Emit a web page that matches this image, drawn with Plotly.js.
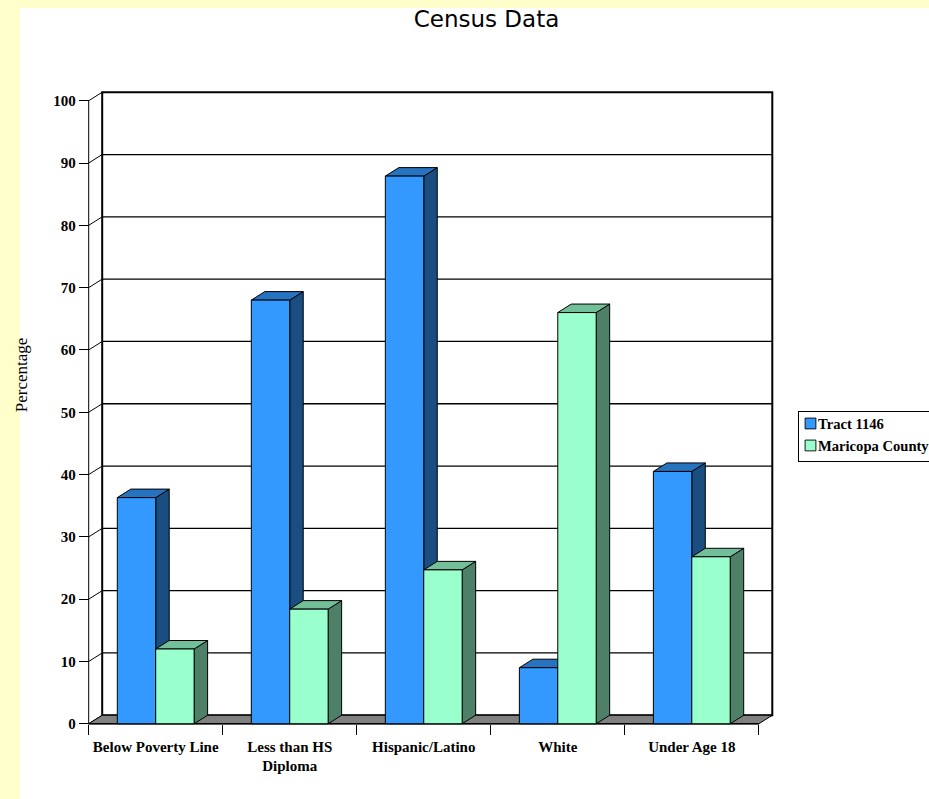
<!DOCTYPE html>
<html>
<head>
<meta charset="utf-8">
<script src="https://cdn.plot.ly/plotly-3.0.1.min.js"></script>
<style>
html,body{margin:0;padding:0;background:#ffffcc;overflow:hidden;width:929px;height:799px}
#sheet{position:absolute;left:20px;top:8px;width:909px;height:791px;background:#fff}
#chart{position:absolute;left:0;top:0}
</style>
</head>
<body>
<div id="sheet"></div>
<div id="chart"></div>
<script>
var categories = ["Below Poverty Line", "Less than HS<br>Diploma", "Hispanic/Latino", "White", "Under Age 18"];
var tract = [36.3, 68, 87.9, 9, 40.5];
var maricopa = [12, 18.4, 24.7, 66, 26.8];
var valueTicks = [0, 10, 20, 30, 40, 50, 60, 70, 80, 90, 100];
var seriesNames = ["Tract 1146", "Maricopa County"];

var W = 1100, H = 799;
var pxX = 134, pxY = 6.225;               // pixels per data unit
var dxPx = 13.5, dyPx = 8.5;              // 3-D depth in pixels
var dx = dxPx / pxX, dy = dyPx / pxY;
var barW = 0.2866;
var padX = 0.05, padY = 1;
var xMin = -0.5 - padX, xMax = 4.5 + dx + padX;
var yMin = -padY, yMax = 100 + dy + padY;
var left = 88.5 - padX * pxX;
var plotW = (xMax - xMin) * pxX;
var bottomPx = 723.5 + padY * pxY;
var plotH = (yMax - yMin) * pxY;

var BLUE = "#3399ff", BLUE_TOP = "#2673bf", BLUE_SIDE = "#1a4d80";
var GREEN = "#99ffcc", GREEN_TOP = "#73bf99", GREEN_SIDE = "#4d8066";

function poly(pts, fill, lw) {
  return {
    type: "path", layer: "below", xref: "x", yref: "y",
    path: "M" + pts.map(function (p) { return p[0] + "," + p[1]; }).join(" L") + " Z",
    fillcolor: fill, line: { color: "#000", width: lw === undefined ? 1 : lw }
  };
}
function seg(x0, y0, x1, y1, lw) {
  return { type: "line", layer: "below", xref: "x", yref: "y", x0: x0, y0: y0, x1: x1, y1: y1,
           line: { color: "#000", width: lw } };
}

var shapes = [];
// back wall
shapes.push(poly([[-0.5 + dx, dy], [4.5 + dx, dy], [4.5 + dx, 100 + dy], [-0.5 + dx, 100 + dy]], "#ffffff", 2));
// gridlines and their diagonals
valueTicks.forEach(function (v) {
  if (v > 0 && v < 100) shapes.push(seg(-0.5 + dx, v + dy, 4.5 + dx, v + dy, 1.3));
  shapes.push(seg(-0.5, v, -0.5 + dx, v + dy, 1));
});
// floor
shapes.push(poly([[-0.5, 0], [4.5, 0], [4.5 + dx, dy], [-0.5 + dx, dy]], "#808080", 1));
// front axis lines
shapes.push(seg(-0.5, 0, -0.5, 100, 1));
shapes.push(seg(-0.5, 0, 4.5, 0, 1.5));
// 3-D faces of the bars
function faces(vals, offset, top, side) {
  vals.forEach(function (v, i) {
    var a = i + offset, b = a + barW;
    shapes.push(poly([[b, 0], [b + dx, dy], [b + dx, v + dy], [b, v]], side));
    shapes.push(poly([[a, v], [b, v], [b + dx, v + dy], [a + dx, v + dy]], top));
  });
}
faces(tract, -barW, BLUE_TOP, BLUE_SIDE);
faces(maricopa, 0, GREEN_TOP, GREEN_SIDE);

var idx = categories.map(function (c, i) { return i; });
var boundaries = [-0.5, 0.5, 1.5, 2.5, 3.5, 4.5];
var labelFont = { family: "Liberation Serif", size: 15, color: "#000", weight: 700 };
var legendFont = { family: "Liberation Serif", size: 14.6, color: "#000", weight: 700 };

var traces = [
  { type: "bar", name: seriesNames[0], x: idx, y: tract, marker: { color: BLUE, line: { color: "#000", width: 1 } } },
  { type: "bar", name: seriesNames[1], x: idx, y: maricopa, marker: { color: GREEN, line: { color: "#000", width: 1 } } }
];

var layout = {
  width: W, height: H,
  paper_bgcolor: "rgba(0,0,0,0)", plot_bgcolor: "rgba(0,0,0,0)",
  margin: { l: left, r: W - left - plotW, t: bottomPx - plotH, b: H - bottomPx, pad: 0 },
  title: { text: "Census Data", font: { family: "DejaVu Sans", size: 23, color: "#000" },
           x: 486.5 / W, xanchor: "center", y: 1 - 19 / H, yanchor: "middle" },
  barmode: "group", bargap: 1 - 2 * barW, bargroupgap: 0,
  showlegend: true,
  legend: {
    xref: "container", yref: "container",
    x: 798 / W, xanchor: "left",
    y: 1 - 410.5 / H, yanchor: "top",
    bgcolor: "#fff", bordercolor: "#000", borderwidth: 1,
    font: legendFont, traceorder: "normal"
  },
  xaxis: {
    range: [xMin, xMax], anchor: "free", position: padY / (yMax - yMin),
    tickmode: "array", tickvals: idx, ticktext: categories,
    ticks: "outside", ticklen: 9, tickcolor: "rgba(0,0,0,0)", tickfont: labelFont, tickangle: 0,
    minor: { tickmode: "array", tickvals: boundaries, ticks: "outside", ticklen: 10, tickwidth: 1, tickcolor: "#000", showgrid: false },
    showgrid: false, zeroline: false, showline: false
  },
  yaxis: {
    range: [yMin, yMax], anchor: "free", position: padX / (xMax - xMin),
    tickmode: "array", tickvals: valueTicks,
    ticks: "outside", ticklen: 10, tickwidth: 1, tickcolor: "#000", tickfont: labelFont,
    showgrid: false, zeroline: false, showline: false,
    title: { text: "Percentage", font: { family: "Liberation Serif", size: 17, color: "#000" }, standoff: 24 }
  },
  shapes: shapes
};

Plotly.newPlot("chart", traces, layout, { displayModeBar: false, staticPlot: true }).then(function (gd) {
  // compact legend key like the reference
  gd.querySelectorAll(".legend .legendtext").forEach(function (t) { t.setAttribute("x", 19); });
  gd.querySelectorAll(".legend .legendpoints path").forEach(function (p) {
    p.setAttribute("transform", "translate(11.5,0) scale(0.9)");
  });
  var bg = gd.querySelector(".legend .bg");
  if (bg) bg.setAttribute("height", 50);
  var sb = gd.querySelector(".legend .scrollbox");
  if (sb) sb.setAttribute("transform", "translate(0,-4)");
  // axis title position
  var yt = gd.querySelector(".ytitle");
  if (yt) {
    yt.setAttribute("x", 27);
    yt.setAttribute("y", 375);
    yt.setAttribute("transform", "rotate(-90,27,375)");
  }
});
</script>
</body>
</html>
